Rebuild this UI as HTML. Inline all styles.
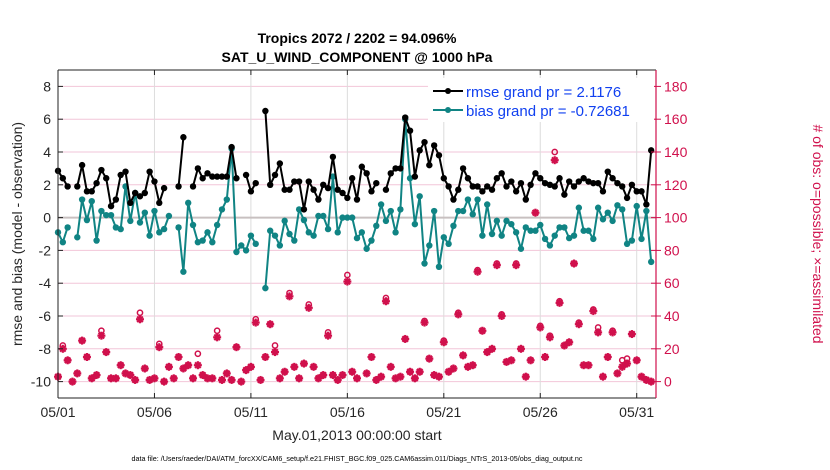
<!DOCTYPE html>
<html><head><meta charset="utf-8"><style>
body{margin:0;background:#fff;}
svg{display:block;font-family:"Liberation Sans",Arial,sans-serif;}
</style></head><body>
<svg id="chart" width="830" height="470" viewBox="0 0 830 470" xmlns="http://www.w3.org/2000/svg"></svg>
<script>
const rmseVals=[2.85,2.4,1.9,null,1.9,3.2,1.6,1.6,2.1,2.9,2.4,0.7,1.1,2.6,2.8,0.9,1.5,1.3,1.5,2.8,2.2,0.9,1.8,null,null,1.9,4.9,null,1.9,3.0,2.4,2.7,2.5,2.5,2.5,2.5,4.3,2.4,null,2.6,1.6,2.1,null,6.5,2.0,2.6,3.3,1.7,1.7,2.2,2.2,0.5,2.2,1.7,1.1,2.0,1.8,3.7,1.7,1.5,1.2,2.4,1.1,3.1,2.7,1.6,2.1,null,1.7,2.7,3.0,3.0,6.1,5.3,2.5,4.1,4.6,3.2,4.4,3.8,2.4,1.9,1.1,1.7,3.0,2.4,1.9,1.9,1.6,1.9,1.7,2.4,2.7,1.9,2.2,1.6,2.1,1.1,2.0,2.7,2.4,2.1,2.0,1.9,2.4,1.4,2.2,1.9,2.2,2.4,2.2,2.1,2.1,1.6,2.8,2.4,2.1,1.9,1.2,2.0,1.6,1.6,0.8,4.1];
const biasVals=[-0.9,-1.5,-0.6,null,-1.2,1.1,-0.15,1.0,-1.4,0.4,0.15,0.15,-0.6,-0.7,1.9,-0.2,1.5,-0.3,0.3,-1.1,0.4,-0.9,-0.7,0.1,null,-0.6,-3.3,0.9,-0.45,-1.5,-1.4,-0.9,-1.5,-0.45,0.5,1.1,4.2,-2.1,-1.7,-2.0,-1.1,-1.6,null,-4.3,-0.8,-1.1,-1.7,-0.2,-1.0,-1.4,0.5,-0.15,-0.9,-1.1,0.1,0.1,-0.7,2.5,-0.9,0,0,0,-1.25,-0.9,-1.9,-1.4,-0.5,0.8,-0.2,0.4,-0.9,0.5,6.0,2.4,-0.4,1.3,-2.8,-1.7,0.4,-3.0,-1.2,-1.6,-0.5,0.4,0.4,1.1,0.2,1.1,-1.1,0.8,-1.0,-0.2,-1.1,-0.2,-0.4,-0.9,-1.9,-0.6,-0.8,-0.8,-0.45,-1.3,-1.7,-1.1,-0.6,-0.6,-1.25,-1.1,0.6,-0.8,-0.8,-1.3,0.6,-0.1,0.3,-0.2,0.75,0.5,-1.6,-1.4,0.7,-1.3,0.4,-2.7];
const obsAssim=[3,20,13,0,5,25,15,2,4,28,18,2,2,10,5,4,1,38,8,1,2,21,0,9,2,15,8,10,2,10,4,2,2,27,1,5,1,21,0,7,9,36,1,15,35,18,2,6,52,9,2,11,45,9,2,4,28,4,1,4,61,6,2,null,5,15,1,3,49,9,2,3,26,6,2,6,36,14,4,3,24,6,8,41,16,9,10,67,31,18,20,71,40,12,13,71,20,3,13,103,33,15,27,135,48,22,24,72,35,10,10,43,30,3,15,30,5,9,11,29,13,3,1,0];
const obsPoss=[3,22,13,0,5,25,15,2,4,31,18,2,2,10,5,4,1,42,8,1,2,23,0,9,2,15,8,10,2,17,4,2,2,31,1,5,1,21,0,7,9,38,1,15,35,22,2,6,54,9,2,11,47,9,2,4,30,4,1,4,65,6,2,null,5,15,1,3,51,9,2,3,26,6,2,6,37,14,4,3,25,6,8,42,16,9,10,68,31,18,20,72,41,12,13,72,20,3,13,103,34,15,28,140,49,22,24,72,36,10,10,44,33,3,15,31,5,13,14,29,13,3,1,0];
const xTickLabels=["05/01","05/06","05/11","05/16","05/21","05/26","05/31"];
const xTickDays=[0,5,10,15,20,25,30];
const yTickVals=[-10,-8,-6,-4,-2,0,2,4,6,8];
const rTickVals=[0,20,40,60,80,100,120,140,160,180];

const svg=document.getElementById('chart');
const NS='http://www.w3.org/2000/svg';
const L=58,R=656,T=70,B=398;
const X0=0,X1=31,Y0=-11,Y1=9;
const xs=d=>L+(d-X0)/(X1-X0)*(R-L);
const ys=v=>B-(v-Y0)/(Y1-Y0)*(B-T);
const yr=n=>ys(-10+n/10);
const dayOf=i=>i/4;
const RED='#d0104c';
function el(tag,attrs,parent){const e=document.createElementNS(NS,tag);for(const k in attrs)e.setAttribute(k,attrs[k]);(parent||svg).appendChild(e);return e;}

// grid
const grid=el('g',{});


yTickVals.forEach(v=>{if(v!==0)el('line',{x1:L,x2:R,y1:ys(v),y2:ys(v),stroke:'#f2c6d8','stroke-width':1},grid);});
xTickDays.forEach(d=>{if(d>0)el('line',{x1:xs(d),x2:xs(d),y1:T,y2:B,stroke:'#dcdcdc','stroke-width':1},grid);});
const zl=el('line',{x1:L,x2:R,y1:ys(0),y2:ys(0),stroke:'#c8c0c0','stroke-width':2});



// obs markers
const obsG=el('g',{});


obsPoss.forEach((n,i)=>{if(n===null)return;const c=el('circle',{cx:xs(dayOf(i)),cy:yr(n),r:2.6,fill:'none',stroke:RED,'stroke-width':1.5},obsG);

});
obsAssim.forEach((n,i)=>{if(n===null)return;const cx=xs(dayOf(i)),cy=yr(n),s=4;
const g=el('g',{stroke:RED,'stroke-width':2.2},obsG);


el('line',{x1:cx-s,x2:cx+s,y1:cy,y2:cy},g);el('line',{x1:cx,x2:cx,y1:cy-s,y2:cy+s},g);
el('line',{x1:cx-s*0.7,x2:cx+s*0.7,y1:cy-s*0.7,y2:cy+s*0.7},g);el('line',{x1:cx-s*0.7,x2:cx+s*0.7,y1:cy+s*0.7,y2:cy-s*0.7},g);
el('circle',{cx:cx,cy:cy,r:2,fill:RED,stroke:'none'},g);});

function series(vals,color,name){
  const g=el('g',{});
  
  
  let d='',pen=false;
  vals.forEach((v,i)=>{if(v===null){pen=false;return;}d+=(pen?'L':'M')+xs(dayOf(i)).toFixed(1)+' '+ys(v).toFixed(1)+' ';pen=true;});
  el('path',{d:d,fill:'none',stroke:color,'stroke-width':2,'stroke-linejoin':'round'},g);
  vals.forEach((v,i)=>{if(v===null)return;const c=el('circle',{cx:xs(dayOf(i)),cy:ys(v),r:3.2,fill:color},g);
  
  });
}
series(biasVals,'#108484','bias-series');
series(rmseVals,'#000000','rmse-series');

// frame
const fr=el('g',{});


el('line',{x1:L,x2:R,y1:T,y2:T,stroke:'#222','stroke-width':1},fr);
el('line',{x1:L,x2:R,y1:B,y2:B,stroke:'#222','stroke-width':1},fr);
el('line',{x1:L,x2:L,y1:T,y2:B,stroke:'#222','stroke-width':1},fr);
el('line',{x1:R,x2:R,y1:T,y2:B,stroke:RED,'stroke-width':1.2},fr);

// axes ticks
const xa=el('g',{});


xTickDays.forEach((d,k)=>{el('line',{x1:xs(d),x2:xs(d),y1:B,y2:B-5,stroke:'#222'},xa);el('line',{x1:xs(d),x2:xs(d),y1:T,y2:T+5,stroke:'#222'},xa);
const t=el('text',{x:xs(d),y:417,'font-size':14,'text-anchor':'middle',fill:'#262626'},xa);t.textContent=xTickLabels[k];

});
const ya=el('g',{});


yTickVals.forEach(v=>{el('line',{x1:L,x2:L+5,y1:ys(v),y2:ys(v),stroke:'#222'},ya);
const t=el('text',{x:51,y:ys(v)+5,'font-size':14,'text-anchor':'end',fill:'#262626'},ya);t.textContent=v;

});
const ra=el('g',{});


rTickVals.forEach(n=>{el('line',{x1:R,x2:R+5,y1:yr(n),y2:yr(n),stroke:RED},ra);el('line',{x1:R,x2:R-5,y1:yr(n),y2:yr(n),stroke:RED},ra);
const t=el('text',{x:664,y:yr(n)+5,'font-size':14,fill:RED},ra);t.textContent=n;

});
</script>
<svg width="830" height="470" style="position:absolute;left:0;top:0" xmlns="http://www.w3.org/2000/svg" font-family="Liberation Sans, Arial, sans-serif">
<text x="357" y="43" font-size="14" font-weight="bold" text-anchor="middle" fill="#000">Tropics 2072 / 2202 = 94.096%</text>
<text x="357" y="62" font-size="14" font-weight="bold" text-anchor="middle" fill="#000">SAT_U_WIND_COMPONENT @ 1000 hPa</text>
<text transform="translate(22,234) rotate(-90)" font-size="14" text-anchor="middle" fill="#262626">rmse and bias (model - observation)</text>
<text transform="translate(813,234) rotate(90)" font-size="14" text-anchor="middle" fill="#d0104c"># of obs: o=possible; ×=assimilated</text>
<text x="357" y="440" font-size="14" text-anchor="middle" fill="#262626">May.01,2013 00:00:00 start</text>
<text x="357" y="461" font-size="7.2" text-anchor="middle" fill="#000">data file: /Users/raeder/DAI/ATM_forcXX/CAM6_setup/f.e21.FHIST_BGC.f09_025.CAM6assim.011/Diags_NTrS_2013-05/obs_diag_output.nc</text>
<g>
<rect x="428" y="78" width="226" height="44" fill="#fff"/>
<g><line x1="433" y1="91" x2="463" y2="91" stroke="#000" stroke-width="2"/><circle cx="448" cy="91" r="3" fill="#000"/><text x="466" y="97" font-size="15" fill="#1040f0">rmse grand pr = 2.1176</text></g>
<g><line x1="433" y1="110" x2="463" y2="110" stroke="#108484" stroke-width="2"/><circle cx="448" cy="110" r="3" fill="#108484"/><text x="466" y="116" font-size="15" fill="#1040f0">bias grand pr = -0.72681</text></g>
</g>
</svg>
</body></html>
